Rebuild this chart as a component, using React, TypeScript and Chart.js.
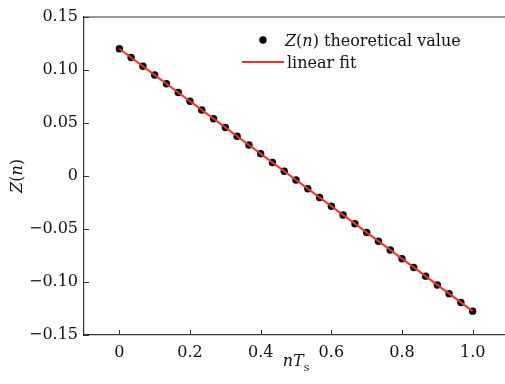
import React, { useEffect, useRef } from "react";
import { Chart, registerables } from "chart.js";

Chart.register(...registerables);

const nTs = [
  0, 0.0333, 0.0667, 0.1, 0.1333, 0.1667, 0.2, 0.2333, 0.2667, 0.3, 0.3333,
  0.3667, 0.4, 0.4333, 0.4667, 0.5, 0.5333, 0.5667, 0.6, 0.6333, 0.6667, 0.7,
  0.7333, 0.7667, 0.8, 0.8333, 0.8667, 0.9, 0.9333, 0.9667, 1.0,
];
const zTheoretical = [
  0.12, 0.1118, 0.1035, 0.0953, 0.087, 0.0788, 0.0705, 0.0623, 0.054, 0.0458,
  0.0375, 0.0293, 0.021, 0.0128, 0.0045, -0.0038, -0.012, -0.0203, -0.0285,
  -0.0368, -0.045, -0.0533, -0.0615, -0.0698, -0.078, -0.0863, -0.0945,
  -0.1028, -0.111, -0.1193, -0.1275,
];
const fitX = [0, 1.0];
const fitY = [0.12, -0.1275];

const xTickValues = [0, 0.2, 0.4, 0.6, 0.8, 1.0];
const xTickLabels = ["0", "0.2", "0.4", "0.6", "0.8", "1.0"];
const yTickValues = [0.15, 0.1, 0.05, 0, -0.05, -0.1, -0.15];
const yTickLabels = ["0.15", "0.10", "0.05", "0", "\u22120.05", "\u22120.10", "\u22120.15"];

const legendLabels = ["theoretical value", "linear fit"];

const FONT = "'DejaVu Serif', serif";
const TEXT = "#111";

const decorPlugin = {
  id: "decor",
  afterDraw(chart: any) {
    const ctx = chart.ctx as CanvasRenderingContext2D;
    const area = chart.chartArea;
    const xs = chart.scales.x;
    const ys = chart.scales.y;
    ctx.save();
    ctx.strokeStyle = "#333";
    ctx.lineWidth = 1.2;
    // top border
    ctx.beginPath();
    ctx.moveTo(area.left, area.top);
    ctx.lineTo(area.right, area.top);
    ctx.stroke();
    // inward ticks
    ctx.lineWidth = 1;
    xTickValues.forEach((v) => {
      const px = Math.round(xs.getPixelForValue(v)) + 0.5;
      ctx.beginPath();
      ctx.moveTo(px, area.bottom);
      ctx.lineTo(px, area.bottom - 5);
      ctx.stroke();
    });
    yTickValues.forEach((v) => {
      const py = Math.round(ys.getPixelForValue(v)) + 0.5;
      ctx.beginPath();
      ctx.moveTo(area.left, py);
      ctx.lineTo(area.left + 5, py);
      ctx.stroke();
    });

    ctx.fillStyle = TEXT;
    ctx.textBaseline = "alphabetic";
    // x title: nT_s
    const xc = xs.getPixelForValue(0.5);
    ctx.font = `italic 16px ${FONT}`;
    const wNT = ctx.measureText("nT").width;
    ctx.font = `11px ${FONT}`;
    const wS = ctx.measureText("s").width;
    const x0 = xc - (wNT + wS) / 2;
    ctx.font = `italic 16px ${FONT}`;
    ctx.textAlign = "left";
    ctx.fillText("nT", x0, 366);
    ctx.font = `11px ${FONT}`;
    ctx.fillText("s", x0 + wNT, 371);

    // y title: Z(n) rotated
    ctx.save();
    ctx.translate(22, ys.getPixelForValue(0));
    ctx.rotate(-Math.PI / 2);
    const parts: [string, string][] = [
      ["Z", "italic"],
      ["(", "normal"],
      ["n", "italic"],
      [")", "normal"],
    ];
    let total = 0;
    parts.forEach(([t, s]) => {
      ctx.font = `${s} 16px ${FONT}`;
      total += ctx.measureText(t).width;
    });
    let cx = -total / 2;
    parts.forEach(([t, s]) => {
      ctx.font = `${s} 16px ${FONT}`;
      ctx.fillText(t, cx, 0);
      cx += ctx.measureText(t).width;
    });
    ctx.restore();

    // legend
    ctx.fillStyle = "#000";
    ctx.beginPath();
    ctx.arc(263, 40, 3.7, 0, Math.PI * 2);
    ctx.fill();
    ctx.fillStyle = TEXT;
    let lx = 285;
    const legParts: [string, string][] = [
      ["Z", "italic"],
      ["(", "normal"],
      ["n", "italic"],
      [") " + legendLabels[0], "normal"],
    ];
    legParts.forEach(([t, s]) => {
      ctx.font = `${s} 16px ${FONT}`;
      ctx.fillText(t, lx, 46);
      lx += ctx.measureText(t).width;
    });
    ctx.strokeStyle = "#f0302a";
    ctx.lineWidth = 2;
    ctx.beginPath();
    ctx.moveTo(242, 62);
    ctx.lineTo(284, 62);
    ctx.stroke();
    ctx.font = `normal 16px ${FONT}`;
    ctx.fillText(legendLabels[1], 287, 68);
    ctx.restore();
  },
};

export default function App() {
  const ref = useRef<HTMLCanvasElement | null>(null);
  useEffect(() => {
    if (!ref.current) return;
    const chart = new Chart(ref.current, {
      type: "scatter",
      data: {
        datasets: [
          {
            label: "linear fit",
            type: "line",
            data: fitX.map((x, i) => ({ x, y: fitY[i] })),
            borderColor: "#f0302a",
            borderWidth: 2,
            pointRadius: 0,
            showLine: true,
            order: 1,
          },
          {
            label: "Z(n) theoretical value",
            data: nTs.map((x, i) => ({ x, y: zTheoretical[i] })),
            backgroundColor: "#000",
            borderColor: "#000",
            pointRadius: 3.7,
            pointBorderWidth: 0,
            order: 2,
          },
        ],
      },
      options: {
        animation: false,
        responsive: false,
        layout: { autoPadding: false, padding: { top: 17, left: 0, right: 0, bottom: 0 } },
        plugins: { legend: { display: false }, tooltip: { enabled: false } },
        scales: {
          x: {
            type: "linear",
            min: -0.1,
            max: 1.0915,
            afterBuildTicks: (s: any) => {
              s.ticks = xTickValues.map((v) => ({ value: v }));
            },
            afterFit: (s: any) => {
              s.height = 49;
              s.paddingRight = 0;
              s.paddingLeft = 0;
            },
            ticks: {
              callback: (v: any) => {
                const i = xTickValues.findIndex((t) => Math.abs(t - v) < 1e-9);
                return i >= 0 ? xTickLabels[i] : "";
              },
              font: { family: FONT, size: 16 },
              color: TEXT,
              padding: 8,
              maxRotation: 0,
              autoSkip: false,
            },
            grid: { display: false, drawTicks: false },
            border: { display: true, color: "#333", width: 1.2 },
          },
          y: {
            type: "linear",
            min: -0.15,
            max: 0.15,
            afterBuildTicks: (s: any) => {
              s.ticks = yTickValues.map((v) => ({ value: v }));
            },
            afterFit: (s: any) => {
              s.width = 84;
              s.paddingTop = 0;
              s.paddingBottom = 0;
            },
            ticks: {
              callback: (v: any) => {
                const i = yTickValues.findIndex((t) => Math.abs(t - v) < 1e-9);
                return i >= 0 ? yTickLabels[i] : "";
              },
              font: { family: FONT, size: 16 },
              color: TEXT,
              padding: 6,
              autoSkip: false,
            },
            grid: { display: false, drawTicks: false },
            border: { display: true, color: "#333", width: 1.2 },
          },
        },
      },
      plugins: [decorPlugin],
    } as any);
    return () => chart.destroy();
  }, []);
  return (
    <div style={{ position: "fixed", left: 0, top: 0, width: 505, height: 384, background: "#fff" }}>
      <canvas ref={ref} width={505} height={384} style={{ width: 505, height: 384 }} />
    </div>
  );
}
